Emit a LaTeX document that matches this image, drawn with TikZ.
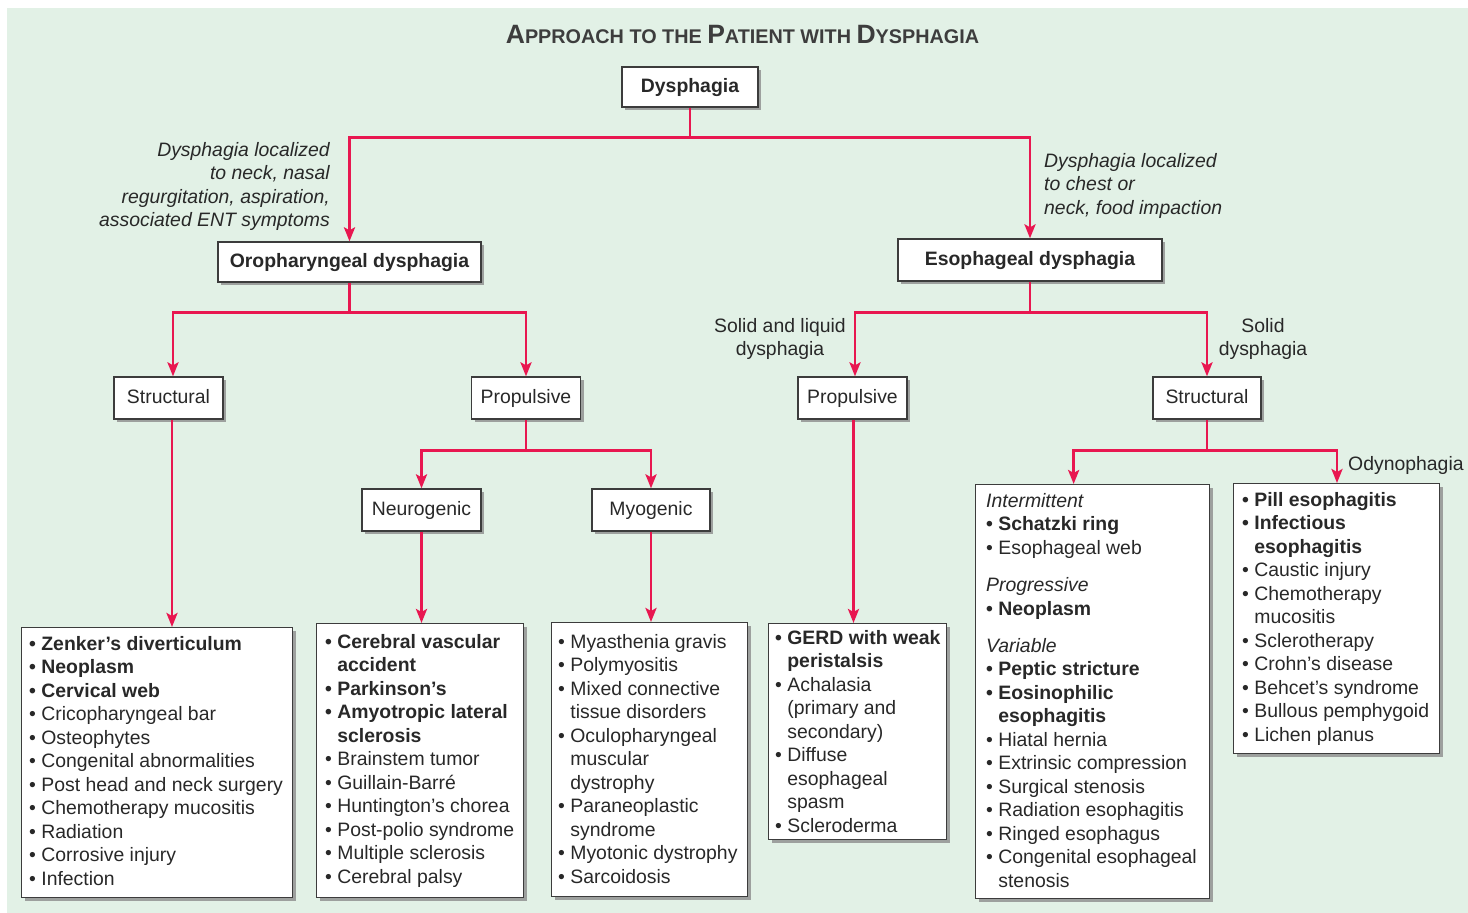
\documentclass[tikz,border=0pt]{standalone}
\usepackage{fontspec}
\setmainfont{Liberation Sans}
\usetikzlibrary{arrows.meta,shadows,calc}
\definecolor{bg}{RGB}{226,241,230}
\definecolor{lnk}{RGB}{232,23,80}
\definecolor{txt}{RGB}{40,40,40}
\definecolor{frm}{RGB}{60,60,60}
\newcommand\fsz{\fontsize{19.4}{23.5}\selectfont}
\newcommand\ri[1]{•\ #1}
\newcommand\rc[1]{\hphantom{•\ }#1}
\newcommand\bi[1]{\textbf{•\ #1}}
\newcommand\bc[1]{\textbf{\hphantom{•\ }#1}}
\newcommand\fst{\rule{0pt}{16pt}}
\newcommand\BG[1]{{\fontsize{26.5}{30}\selectfont #1}}
\newcommand\SM[1]{{\fontsize{19.8}{24}\selectfont #1}}
\begin{document}
\begin{tikzpicture}[x=1pt,y=-1pt,
  every node/.style={text=txt, font=\fsz},
  box/.style={draw=frm, line width=1.3pt, fill=white, inner sep=0pt,
    drop shadow={shadow xshift=3pt, shadow yshift=-3pt, fill=black!45, opacity=0.8}},
  lbl/.style={box, minimum height=42pt, text height=14pt, text depth=3.5pt},
  lsttext/.style={anchor=north west, inner sep=0pt, align=left},
  conn/.style={draw=lnk, line width=2.8pt, -{Stealth[length=14pt,width=11pt,inset=3pt]}},
  ln/.style={draw=lnk, line width=2.8pt}]

\useasboundingbox (0,0) rectangle (1468,913);
\fill[bg] (7,8) rectangle (1468,913);

% title
\node[anchor=base, font=\bfseries, text=txt!90] (title) at (742.5,43)
  {\BG{A}\SM{PPROACH TO THE }\BG{P}\SM{ATIENT WITH }\BG{D}\SM{YSPHAGIA}};

% label boxes
\node[lbl, minimum width=136pt, minimum height=40pt, font=\fsz\bfseries] (dys) at (690,87) {Dysphagia};
\node[lbl, minimum width=263pt, minimum height=40pt, font=\fsz\bfseries] (oro) at (349.5,262) {Oropharyngeal dysphagia};
\node[lbl, minimum width=264pt, font=\fsz\bfseries] (eso) at (1030,260) {Esophageal dysphagia};
\node[lbl, minimum width=109pt] (strucL) at (168.5,398) {Structural};
\node[lbl, minimum width=109pt] (propL) at (526,398) {Propulsive};
\node[lbl, minimum width=119pt] (neuro) at (421.5,510) {Neurogenic};
\node[lbl, minimum width=118pt] (myo) at (651,510) {Myogenic};
\node[lbl, minimum width=109pt] (propR) at (852.5,398) {Propulsive};
\node[lbl, minimum width=108pt] (strucR) at (1207,398) {Structural};

% annotations
\node[anchor=north east, inner sep=0pt, align=right, font=\fsz\itshape] (annL) at (330,140)
  {\fst Dysphagia localized\\to neck, nasal\\regurgitation, aspiration,\\associated ENT symptoms};
\node[anchor=north west, inner sep=0pt, align=left, font=\fsz\itshape] (annR) at (1044,151)
  {\fst Dysphagia localized\\to chest or\\neck, food impaction};
\node[anchor=north, inner sep=0pt, align=center] (solliq) at (780,316)
  {\fst Solid and liquid\\dysphagia};
\node[anchor=north, inner sep=0pt, align=center] (sol) at (1263,316)
  {\fst Solid\\dysphagia};
\node[anchor=base west, inner sep=0pt] (odyn) at (1348,470) {Odynophagia};

% list boxes
\node[box, anchor=north west, minimum width=271pt, minimum height=270pt] (lstSL) at (21,627) {};
\node[lsttext] (tSL) at (29,634) {\fst\bi{Zenker’s diverticulum}\\
  \bi{Neoplasm}\\ \bi{Cervical web}\\ \ri{Cricopharyngeal bar}\\ \ri{Osteophytes}\\
  \ri{Congenital abnormalities}\\ \ri{Post head and neck surgery}\\
  \ri{Chemotherapy mucositis}\\ \ri{Radiation}\\ \ri{Corrosive injury}\\ \ri{Infection}};

\node[box, anchor=north west, minimum width=207pt, minimum height=274pt] (lstN) at (316,623) {};
\node[lsttext] (tN) at (325,632) {\fst\bi{Cerebral vascular}\\ \bc{accident}\\
  \bi{Parkinson’s}\\ \bi{Amyotropic lateral}\\ \bc{sclerosis}\\
  \ri{Brainstem tumor}\\ \ri{Guillain-Barré}\\ \ri{Huntington’s chorea}\\
  \ri{Post-polio syndrome}\\ \ri{Multiple sclerosis}\\ \ri{Cerebral palsy}};

\node[box, anchor=north west, minimum width=196pt, minimum height=274pt] (lstM) at (551,622) {};
\node[lsttext] (tM) at (558,632) {\fst\ri{Myasthenia gravis}\\ \ri{Polymyositis}\\
  \ri{Mixed connective}\\ \rc{tissue disorders}\\ \ri{Oculopharyngeal}\\
  \rc{muscular}\\ \rc{dystrophy}\\ \ri{Paraneoplastic}\\ \rc{syndrome}\\
  \ri{Myotonic dystrophy}\\ \ri{Sarcoidosis}};

\node[box, anchor=north west, minimum width=178pt, minimum height=216pt] (lstPR) at (768,623) {};
\node[lsttext] (tPR) at (775,628) {\fst\bi{GERD with weak}\\ \bc{peristalsis}\\
  \ri{Achalasia}\\ \rc{(primary and}\\ \rc{secondary)}\\ \ri{Diffuse}\\
  \rc{esophageal}\\ \rc{spasm}\\ \ri{Scleroderma}};

\node[box, anchor=north west, minimum width=234pt, minimum height=414pt] (lstSR) at (975,484) {};
\node[lsttext] (tSR) at (986,491) {\fst\textit{Intermittent}\\ \bi{Schatzki ring}\\
  \ri{Esophageal web}\\[14pt] \textit{Progressive}\\ \bi{Neoplasm}\\[13.5pt]
  \textit{Variable}\\ \bi{Peptic stricture}\\ \bi{Eosinophilic}\\ \bc{esophagitis}\\
  \ri{Hiatal hernia}\\ \ri{Extrinsic compression}\\ \ri{Surgical stenosis}\\
  \ri{Radiation esophagitis}\\ \ri{Ringed esophagus}\\ \ri{Congenital esophageal}\\
  \rc{stenosis}};

\node[box, anchor=north west, minimum width=206pt, minimum height=270pt] (lstO) at (1233,483) {};
\node[lsttext] (tO) at (1242,490) {\fst\bi{Pill esophagitis}\\ \bi{Infectious}\\
  \bc{esophagitis}\\ \ri{Caustic injury}\\ \ri{Chemotherapy}\\ \rc{mucositis}\\
  \ri{Sclerotherapy}\\ \ri{Crohn’s disease}\\ \ri{Behcet’s syndrome}\\
  \ri{Bullous pemphygoid}\\ \ri{Lichen planus}};

% junctions
\coordinate (j0) at ($(dys.south)+(0,30)$);
\coordinate (j1) at ($(oro.south)+(0,30)$);
\coordinate (j2) at ($(propL.south)+(0,31)$);
\coordinate (j3) at ($(eso.south)+(0,31)$);
\coordinate (j4) at ($(strucR.south)+(0,31)$);

% connectors
\draw[ln] (dys.south) -- (j0);
\draw[conn] (j0) -| (oro.north);
\draw[conn] (j0) -| (eso.north);
\draw[ln] (oro.south) -- (j1);
\draw[conn] (j1) -| ([xshift=4.5pt]strucL.north);
\draw[conn] (j1) -| (propL.north);
\draw[ln] (propL.south) -- (j2);
\draw[conn] (j2) -| (neuro.north);
\draw[conn] (j2) -| (myo.north);
\draw[ln] (eso.south) -- (j3);
\draw[conn] (j3) -| ([xshift=2.5pt]propR.north);
\draw[conn] (j3) -| (strucR.north);
\draw[ln] (strucR.south) -- (j4);
\draw[conn] (j4) -| ([xshift=-19pt]lstSR.north);
\draw[conn] (j4) -| ([xshift=104pt]lstO.north west);
\draw[conn] ([xshift=3.5pt]strucL.south) -- ([xshift=3.5pt]strucL.south |- lstSL.north);
\draw[conn] (neuro.south) -- (neuro.south |- lstN.north);
\draw[conn] (myo.south) -- (myo.south |- lstM.north);
\draw[conn] ([xshift=1pt]propR.south) -- ([xshift=1pt]propR.south |- lstPR.north);
\end{tikzpicture}
\end{document}
